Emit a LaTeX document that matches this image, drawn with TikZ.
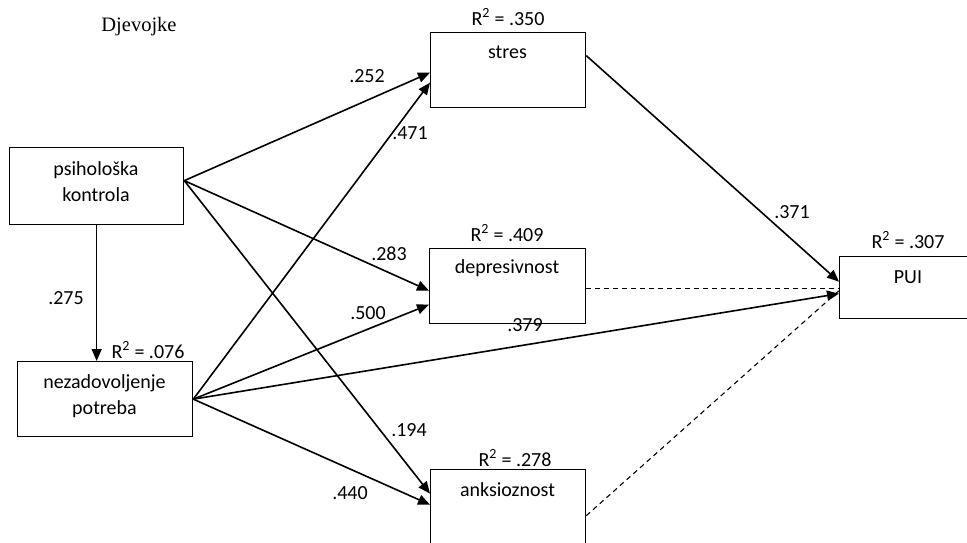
\documentclass[tikz,border=0pt]{standalone}
\usepackage{fontspec}
\setmainfont{Carlito}
\newfontfamily\seriffont{Liberation Serif}
\usetikzlibrary{arrows.meta}
\begin{document}
\begin{tikzpicture}[x=1pt,y=-1pt,
  box/.style={draw=black,line width=1.3pt,rectangle,inner sep=0pt,anchor=north west},
  txt/.style={font=\fontsize{20}{26}\selectfont,inner sep=0pt,align=center},
  path/.style={line width=1.6pt,-{Triangle[length=12pt,width=10pt]}},
  nonsig/.style={line width=1.1pt,dashed,dash pattern=on 5pt off 4pt}]
\useasboundingbox (0,0) rectangle (967,543);
\clip (0,0) rectangle (967,543);
% boxes
\node[box,minimum width=174pt,minimum height=77pt] (psih) at (9,147) {};
\node[box,minimum width=175pt,minimum height=75pt] (nez) at (17,361) {};
\node[box,minimum width=155pt,minimum height=75pt] (stres) at (430,32) {};
\node[box,minimum width=156pt,minimum height=75pt] (depr) at (429,248) {};
\node[box,minimum width=155pt,minimum height=80pt] (anks) at (430,469) {};
\node[box,minimum width=140pt,minimum height=62pt] (pui) at (839,256) {};
% texts
\node[txt,font=\fontsize{20.5}{24}\selectfont\seriffont] (title) at (139,27) {Djevojke};
\node[txt] (tpsih) at (96,182) {psihološka\\kontrola};
\node[txt] (tnez) at (104.5,396) {nezadovoljenje\\potreba};
\node[txt] (tstres) at (507.5,52) {stres};
\node[txt] (tdepr) at (507,268) {depresivnost};
\node[txt] (tanks) at (507.5,490) {anksioznost};
\node[txt] (tpui) at (908,277) {PUI};
% R2
\node[txt] (r1) at (508,17) {R\textsuperscript{2} = .350};
\node[txt] (r2) at (507,233) {R\textsuperscript{2} = .409};
\node[txt] (r3) at (515,458) {R\textsuperscript{2} = .278};
\node[txt] (r4) at (908,240) {R\textsuperscript{2} = .307};
\node[txt] (r5) at (148,350) {R\textsuperscript{2} = .076};
% paths
\draw[path] (psih.south) -- (psih.south |- nez.north);
\draw[path] ([yshift=5.5pt]psih.east) -- ([yshift=-2.5pt]stres.west);
\draw[path] ([yshift=5.5pt]psih.east) -- ([yshift=-4.5pt]depr.west);
\draw[path] ([yshift=5.5pt]psih.east) -- ([yshift=16pt]anks.west);
\draw[path] (nez.east) -- ([yshift=-12.5pt]stres.west);
\draw[path] (nez.east) -- ([yshift=-18.5pt]depr.west);
\draw[path] (nez.east) -- ([yshift=5pt]anks.west);
\draw[path] (nez.east) -- ([yshift=-6pt]pui.west);
\draw[path] ([yshift=14.5pt]stres.east) -- ([yshift=6pt]pui.west);
\draw[nonsig] ([yshift=-2.5pt]depr.east) -- ([yshift=-1pt]pui.west);
\draw[nonsig] ([yshift=-6pt]anks.east) -- ([yshift=-3pt]pui.west);
% coefficients
\node[txt] (c275) at (66,298) {.275};
\node[txt] (c252) at (367,76) {.252};
\node[txt] (c471) at (410,133) {.471};
\node[txt] (c283) at (389,254) {.283};
\node[txt] (c500) at (368,313) {.500};
\node[txt] (c379) at (525,325) {.379};
\node[txt] (c371) at (792,212) {.371};
\node[txt] (c194) at (409,430) {.194};
\node[txt] (c440) at (350,493) {.440};
\end{tikzpicture}
\end{document}
